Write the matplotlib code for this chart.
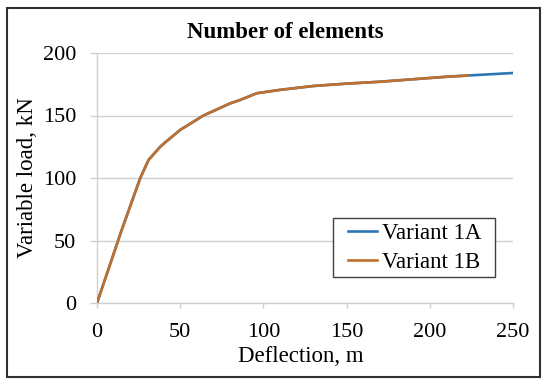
import matplotlib
matplotlib.use("Agg")
import matplotlib.pyplot as plt
from matplotlib.patches import Rectangle

plt.rcParams['font.family'] = ['Liberation Serif', 'DejaVu Serif']

# Deflection (m) and variable load (kN)
defl_1a = [0, 15, 26, 31, 38, 41, 50, 64, 80, 86, 96, 110, 130, 150, 170, 190, 210, 223, 250]
load_1a = [0, 59, 100, 114.5, 125, 128.5, 138.5, 150, 159.7, 162.4, 167.8, 170.5, 173.6, 175.5, 177, 179, 181, 182, 184]
defl_1b = [0, 15, 26, 31, 38, 41, 50, 64, 80, 86, 96, 110, 130, 150, 170, 190, 210, 223]
load_1b = [0, 59, 100, 114.5, 125, 128.5, 138.5, 150, 159.7, 162.4, 167.8, 170.5, 173.6, 175.5, 177, 179, 181, 182]

x_ticks = [0, 50, 100, 150, 200, 250]
y_ticks = [0, 50, 100, 150, 200]

W, H = 550, 387
fig = plt.figure(figsize=(W / 100, H / 100), dpi=100)
ax = fig.add_axes([97 / W, 1 - 303 / H, (513 - 97) / W, (303 - 53) / H])

grid_c = '#d0d0d0'
ax.plot(defl_1a, load_1a, color='#2e75b6', lw=1.9, label='Variant 1A', zorder=3)
ax.plot(defl_1b, load_1b, color='#c0702e', lw=1.9, label='Variant 1B', zorder=4)

ax.set_xlim(0, 250)
ax.set_ylim(0, 200)
ax.set_xticks(x_ticks)
ax.set_yticks(y_ticks)
ax.yaxis.grid(True, color=grid_c, lw=1)
ax.set_axisbelow(True)
for s in ['top', 'right']:
    ax.spines[s].set_visible(False)
for s in ['left', 'bottom']:
    ax.spines[s].set_color(grid_c)
    ax.spines[s].set_linewidth(1)
ax.tick_params(axis='x', colors=grid_c, length=3.6, width=1, labelsize=16, labelcolor='black', pad=11)
ax.tick_params(axis='y', colors=grid_c, length=5, width=1, labelsize=16, labelcolor='black', pad=10)

fig.text(301 / W, 1 - 356 / H, 'Deflection, m', fontsize=16.5, ha='center', va='center')
fig.text(28 / W, 1 - 178 / H, 'Variable load, kN', fontsize=16.5, ha='center', va='center', rotation=90)
fig.text(285 / W, 1 - 33 / H, 'Number of elements', fontsize=16.5, fontweight='bold', ha='center', va='center')

# legend entries without frame, box drawn separately
leg = ax.legend(loc='center left', bbox_to_anchor=(348 / W, 1 - 248 / H), bbox_transform=fig.transFigure,
                fontsize=16.5, frameon=False, handlelength=1.27, handletextpad=0.22,
                borderpad=0, borderaxespad=0, labelspacing=0.38)
leg.set_zorder(6)
box = Rectangle((333 / W, 1 - 277 / H), (495 - 333) / W, (277 - 218) / H,
                transform=fig.transFigure, facecolor='white', edgecolor='#404040', lw=1,
                zorder=5, clip_on=False)
ax.add_patch(box)

fig.add_artist(Rectangle((7 / W, 1 - 377 / H), (540 - 7) / W, (377 - 8) / H,
                         transform=fig.transFigure, fill=False, edgecolor='#303030', lw=1.5))

fig.savefig('out.png', dpi=100)
